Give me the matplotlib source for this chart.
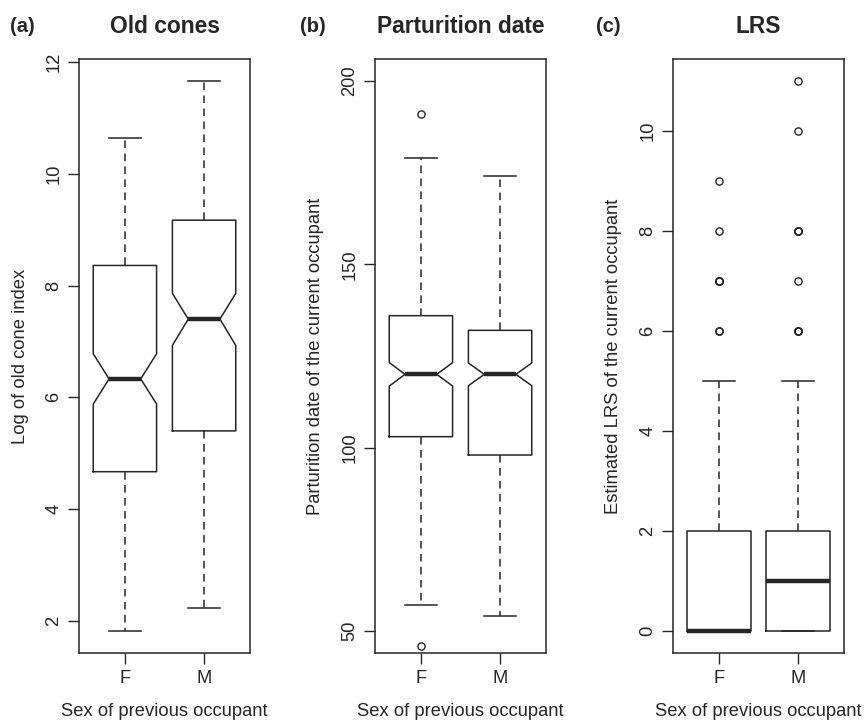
import numpy as np
import matplotlib
matplotlib.use("Agg")
import matplotlib.pyplot as plt

plt.rcParams["font.family"] = ["Liberation Sans", "DejaVu Sans"]

groups = ["F", "M"]

# (a) old cones, log index
cones_q1 = [4.67, 5.40]
cones_med = [6.33, 7.40]
cones_q3 = [8.36, 9.17]
cones_lo = [1.82, 2.23]
cones_hi = [10.64, 11.66]
cones_cilo = [5.88, 6.93]
cones_cihi = [6.78, 7.86]
cones_fliers = [[], []]

# (b) parturition date
part_q1 = [103, 98]
part_med = [120, 120]
part_q3 = [136, 132]
part_lo = [57, 54]
part_hi = [179, 174]
part_cilo = [116.8, 116.9]
part_cihi = [123.2, 123.1]
part_fliers = [[191, 46], []]

# (c) LRS
lrs_q1 = [0, 0]
lrs_med = [0, 1]
lrs_q3 = [2, 2]
lrs_lo = [0, 0]
lrs_hi = [5, 5]
lrs_fliers = [[6, 6, 7, 7, 7, 8, 9], [6, 6, 6, 7, 8, 8, 8, 10, 11]]

ink = "#262626"
fs = 13.2


def stats(q1, med, q3, lo, hi, fliers, cilo=None, cihi=None):
    out = []
    for i in range(len(groups)):
        d = dict(q1=q1[i], med=med[i], q3=q3[i], whislo=lo[i], whishi=hi[i],
                 fliers=fliers[i], label=groups[i])
        if cilo is not None:
            d["cilo"] = cilo[i]
            d["cihi"] = cihi[i]
        out.append(d)
    return out


def rlim(a, b):
    r = b - a
    return a - 0.04 * r, b + 0.04 * r


fig = plt.figure(figsize=(8.66, 7.23), dpi=100)
W, H = 866, 723

panels = [
    dict(left=79, title="Old cones", tag="(a)", tagx=22,
         ylabel="Log of old cone index",
         st=stats(cones_q1, cones_med, cones_q3, cones_lo, cones_hi, cones_fliers, cones_cilo, cones_cihi),
         notch=True, ylim=rlim(min(cones_lo), max(cones_hi)), yticks=[2, 4, 6, 8, 10, 12]),
    dict(left=375, title="Parturition date", tag="(b)", tagx=313,
         ylabel="Parturition date of the current occupant",
         st=stats(part_q1, part_med, part_q3, part_lo, part_hi, part_fliers, part_cilo, part_cihi),
         notch=True, ylim=rlim(50, 200), yticks=[50, 100, 150, 200]),
    dict(left=673, title="LRS", tag="(c)", tagx=608,
         ylabel="Estimated LRS of the current occupant",
         st=stats(lrs_q1, lrs_med, lrs_q3, lrs_lo, lrs_hi, lrs_fliers),
         notch=False, ylim=rlim(0, 11), yticks=[0, 2, 4, 6, 8, 10]),
]

top, bottom, width = 59, 653, 171

for p in panels:
    ax = fig.add_axes([p["left"] / W, 1 - bottom / H, width / W, (bottom - top) / H])
    ax.bxp(p["st"], positions=[1, 2], widths=0.8, shownotches=p["notch"],
           boxprops=dict(color=ink, linewidth=1.1),
           whiskerprops=dict(color=ink, linewidth=1.1, linestyle=(0, (5, 3.5))),
           capprops=dict(color=ink, linewidth=1.1),
           medianprops=dict(color=ink, linewidth=3.2, solid_capstyle="butt"),
           flierprops=dict(marker="o", markersize=5.2, markerfacecolor="none",
                           markeredgecolor=ink, markeredgewidth=1.0))
    ax.set_xlim(0.42, 2.58)
    ax.set_ylim(*p["ylim"])
    ax.set_xticks([1, 2])
    ax.set_xticklabels(groups)
    ax.set_yticks(p["yticks"])
    ax.set_yticklabels([str(v) for v in p["yticks"]], rotation=90, va="center")
    ax.tick_params(direction="out", length=8, width=1.0, color=ink, labelsize=fs,
                   labelcolor=ink, pad=4)
    for s in ax.spines.values():
        s.set_color(ink)
        s.set_linewidth(1.1)
    ax.set_ylabel(p["ylabel"], fontsize=fs, color=ink, va="center")
    ax.yaxis.set_label_coords(-59 / width, 0.5)
    ax.set_xlabel("Sex of previous occupant", fontsize=fs, color=ink, va="center")
    ax.xaxis.set_label_coords(0.5, -58 / (bottom - top))
    cx = (p["left"] + width / 2) / W
    fig.text(cx, 1 - 26.5 / H, p["title"], ha="center", va="center",
             fontsize=16.4, fontweight="bold", color=ink)
    fig.text(p["tagx"] / W, 1 - 26.5 / H, p["tag"], ha="center", va="center",
             fontsize=14.5, fontweight="bold", color=ink)

fig.savefig("out.png", dpi=100)
